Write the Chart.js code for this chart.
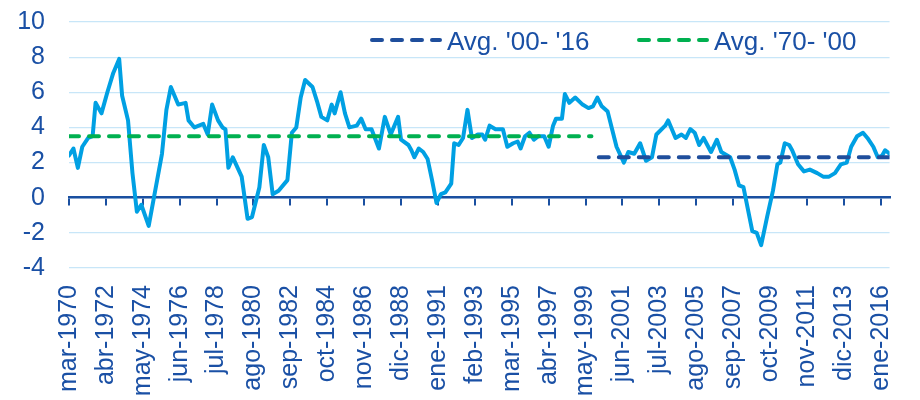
<!DOCTYPE html>
<html>
<head>
<meta charset="utf-8">
<script src="https://cdn.jsdelivr.net/npm/chart.js@4.4.1/dist/chart.umd.min.js"></script>
<style>
    html, body { margin: 0; padding: 0; background: #ffffff; }
    #wrap { width: 920px; height: 400px; }
</style>
</head>
<body>
<div id="wrap"><canvas id="cpiChart" width="920" height="400"></canvas></div>
<script>
// meses contados desde mar-1970 (eje x) y valor (eje y)
var months = [
    0, 3, 6, 9, 13, 16, 18, 22, 26, 30,
    34, 36, 40, 43, 46, 49, 54, 63, 66, 69,
    74, 79, 81, 85, 91, 94, 97, 101, 104, 106,
    108, 111, 117, 121, 124, 129, 132, 135, 138, 142,
    148, 151, 154, 157, 160, 165, 168, 171, 175, 178,
    180, 184, 187, 190, 195, 198, 201, 205, 210, 214,
    218, 223, 225, 230, 232, 234, 237, 240, 243, 246,
    249, 252, 255, 259, 261, 264, 267, 270, 273, 277,
    280, 282, 285, 289, 294, 297, 301, 304, 306, 309,
    312, 315, 318, 322, 325, 328, 330, 334, 336, 339,
    343, 348, 352, 355, 358, 361, 365, 368, 371, 376,
    379, 383, 387, 391, 395, 398, 404, 406, 411, 415,
    418, 421, 424, 427, 430, 435, 439, 442, 448, 451,
    454, 457, 463, 466, 469, 473, 477, 480, 482, 485,
    488, 490, 494, 498, 502, 507, 511, 515, 519, 523,
    527, 530, 534, 538, 541, 545, 548, 551, 553, 556
];
var values = [
    2.4, 2.8, 1.7, 2.9, 3.4, 3.5, 5.4, 4.8, 6.0, 7.1,
    7.9, 5.8, 4.4, 1.4, -0.8, -0.4, -1.6, 2.5, 5.0, 6.3,
    5.3, 5.4, 4.4, 4.0, 4.2, 3.6, 5.3, 4.4, 4.0, 3.9,
    1.7, 2.3, 1.2, -1.2, -1.1, 0.6, 3.0, 2.3, 0.2, 0.4,
    1.0, 3.7, 4.0, 5.7, 6.7, 6.3, 5.5, 4.6, 4.4, 5.3,
    4.8, 6.0, 4.8, 4.0, 4.1, 4.5, 3.9, 3.9, 2.8, 4.6,
    3.6, 4.6, 3.3, 3.0, 2.7, 2.3, 2.8, 2.6, 2.2, 1.0,
    -0.3, 0.2, 0.3, 0.8, 3.1, 3.0, 3.4, 5.0, 3.4, 3.6,
    3.6, 3.3, 4.1, 3.9, 3.9, 2.9, 3.1, 3.2, 2.8, 3.5,
    3.7, 3.3, 3.5, 3.5, 2.9, 4.1, 4.5, 4.5, 5.9, 5.4,
    5.7, 5.3, 5.1, 5.2, 5.7, 5.2, 4.9, 3.9, 2.9, 2.0,
    2.6, 2.5, 3.1, 2.1, 2.3, 3.6, 4.1, 4.4, 3.4, 3.6,
    3.4, 3.9, 3.7, 3.0, 3.4, 2.6, 3.3, 2.6, 2.3, 1.6,
    0.7, 0.6, -1.9, -2.0, -2.7, -1.1, 0.4, 1.9, 2.0, 3.1,
    3.0, 2.7, 1.9, 1.5, 1.6, 1.4, 1.2, 1.2, 1.4, 1.9,
    2.0, 2.9, 3.5, 3.7, 3.4, 2.9, 2.3, 2.4, 2.7, 2.5
];
// una etiqueta cada 25 meses
var tickLabels = [
    'mar-1970', 'abr-1972', 'may-1974', 'jun-1976', 'jul-1978', 'ago-1980',
    'sep-1982', 'oct-1984', 'nov-1986', 'dic-1988', 'ene-1991', 'feb-1993',
    'mar-1995', 'abr-1997', 'may-1999', 'jun-2001', 'jul-2003', 'ago-2005',
    'sep-2007', 'oct-2009', 'nov-2011', 'dic-2013', 'ene-2016'
];
var tickStep = 25;
var lastMonth = 556;

// promedios
var avg7000Label = "Avg. '70- '00";
var avg7000Value = 3.5;
var avg7000Months = [0, 354];
var avg0016Label = "Avg. '00- '16";
var avg0016Value = 2.3;
var avg0016Months = [359, 556];

var TEXT_COLOR = '#1a50a5';
var AXIS_COLOR = '#1a4fa0';
var FONT = "'Liberation Sans', Arial, sans-serif";

function buildPoints(xs, ys) {
    var pts = [];
    for (var i = 0; i < xs.length; i++) {
        pts.push({ x: xs[i], y: ys[i] });
    }
    return pts;
}

function flatLine(range, value) {
    return [{ x: range[0], y: value }, { x: range[1], y: value }];
}

// leyenda dibujada dentro del area del grafico (arriba a la derecha)
var avgLegend = {
    id: 'avgLegend',
    afterDatasetsDraw: function (chart) {
        var ctx = chart.ctx;
        var items = [{ ds: 0, x: 370 }, { ds: 1, x: 637 }];
        ctx.save();
        items.forEach(function (it) {
            var ds = chart.data.datasets[it.ds];
            ctx.strokeStyle = ds.borderColor;
            ctx.lineWidth = 4;
            ctx.lineCap = 'round';
            ctx.setLineDash(ds.borderDash);
            ctx.beginPath();
            ctx.moveTo(it.x + 2, 40);
            ctx.lineTo(it.x + 70, 40);
            ctx.stroke();
            ctx.setLineDash([]);
            ctx.fillStyle = TEXT_COLOR;
            ctx.font = '26px ' + FONT;
            ctx.textBaseline = 'alphabetic';
            ctx.textAlign = 'left';
            ctx.fillText(ds.label, it.x + 77, 50);
        });
        ctx.restore();
    }
};

var vCtx = document.getElementById('cpiChart').getContext('2d');
new Chart(vCtx, {
    type: 'line',
    data: {
        datasets: [
            {
                label: avg0016Label,
                data: flatLine(avg0016Months, avg0016Value),
                borderColor: '#1f4e9c',
                borderWidth: 4,
                borderDash: [10, 10],
                borderCapStyle: 'round',
                pointRadius: 0
            },
            {
                label: avg7000Label,
                data: flatLine(avg7000Months, avg7000Value),
                borderColor: '#00b050',
                borderWidth: 4,
                borderDash: [10, 10],
                borderCapStyle: 'round',
                pointRadius: 0
            },
            {
                label: 'IPC',
                data: buildPoints(months, values),
                borderColor: '#00a0e3',
                borderWidth: 4,
                borderJoinStyle: 'round',
                borderCapStyle: 'round',
                tension: 0,
                pointRadius: 0
            }
        ]
    },
    options: {
        responsive: false,
        animation: false,
        devicePixelRatio: 1,
        layout: { padding: { top: 22, right: 28, left: 0, bottom: 0 } },
        plugins: {
            legend: { display: false },
            tooltip: { enabled: false }
        },
        scales: {
            x: {
                type: 'linear',
                position: 'bottom',
                min: 0,
                max: lastMonth,
                grid: { display: false },
                border: { display: false },
                ticks: {
                    stepSize: tickStep,
                    includeBounds: false,
                    autoSkip: false,
                    minRotation: 90,
                    maxRotation: 90,
                    padding: 9,
                    color: TEXT_COLOR,
                    font: { family: FONT, size: 25 },
                    callback: function (value) {
                        return tickLabels[Math.round(value / tickStep)];
                    }
                },
                afterFit: function (scale) { scale.height = 132; }
            },
            x0: {
                axis: 'x',
                type: 'linear',
                position: { y: 0 },
                min: 0,
                max: lastMonth,
                grid: {
                    drawOnChartArea: false,
                    drawTicks: true,
                    tickLength: 7,
                    color: AXIS_COLOR,
                    lineWidth: 2
                },
                border: { display: true, color: AXIS_COLOR, width: 2.5 },
                ticks: { display: false, stepSize: tickStep, includeBounds: false, autoSkip: false }
            },
            y: {
                min: -4,
                max: 10,
                grid: { color: '#c8e6f8', lineWidth: 1.2, drawTicks: false },
                border: { display: false },
                ticks: {
                    stepSize: 2,
                    autoSkip: false,
                    padding: 24,
                    color: TEXT_COLOR,
                    font: { family: FONT, size: 25 }
                },
                afterFit: function (scale) {
                    scale.width = 69;
                    scale.paddingTop = 0;
                    scale.paddingBottom = 0;
                }
            }
        }
    },
    plugins: [avgLegend]
});
</script>
</body>
</html>
